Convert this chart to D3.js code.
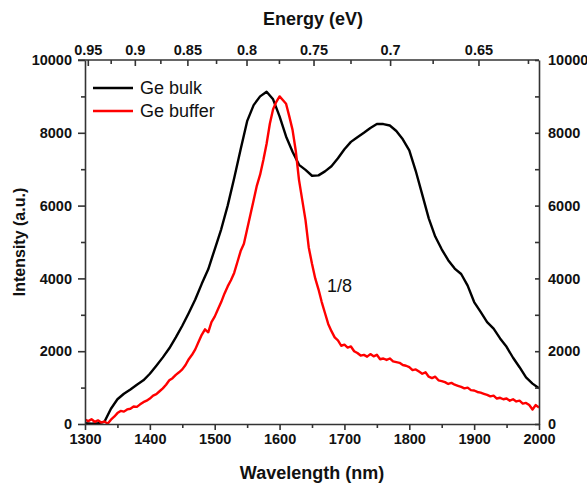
<!DOCTYPE html>
<html>
<head>
<meta charset="utf-8">
<script src="https://cdn.jsdelivr.net/npm/d3@7"></script>
<style>
  html, body { margin: 0; padding: 0; background: #fff; }
  svg { display: block; font-family: "Liberation Sans", Arial, sans-serif; }
</style>
</head>
<body>
<svg id="chart" width="587" height="484"></svg>
<script>
// Photoluminescence spectra: wavelength (nm) vs. intensity (a.u.)
const bulkWavelength = [1300,1310,1320,1330,1340,1350,1360,1370,1380,1390,1400,1410,1420,1430,1440,1450,1460,1470,1480,1490,1500,1510,1520,1530,1540,1550,1560,1570,1580,1590,1600,1610,1620,1630,1640,1650,1660,1670,1680,1690,1700,1710,1720,1730,1740,1750,1760,1770,1780,1790,1800,1810,1820,1830,1840,1850,1860,1870,1880,1890,1900,1910,1920,1930,1940,1950,1960,1970,1980,1990,2000];
const bulkIntensity = [20,10,20,60,420,680,830,950,1080,1200,1380,1600,1830,2080,2380,2700,3050,3420,3850,4250,4800,5350,6000,6750,7550,8320,8760,9000,9130,8920,8450,7900,7480,7120,6980,6820,6830,6940,7080,7300,7550,7750,7880,8000,8130,8240,8240,8200,8050,7820,7520,6950,6300,5650,5150,4800,4500,4270,4120,3800,3350,3080,2800,2620,2350,2120,1820,1560,1280,1110,980];

const bufferWavelength = [1300,1305,1310,1315,1320,1325,1330,1335,1340,1345,1350,1355,1360,1365,1370,1375,1380,1385,1390,1395,1400,1405,1410,1415,1420,1425,1430,1435,1440,1445,1450,1455,1460,1465,1470,1475,1480,1485,1490,1495,1500,1505,1510,1515,1520,1525,1530,1535,1540,1545,1550,1555,1560,1565,1570,1575,1580,1585,1590,1595,1600,1605,1610,1615,1620,1625,1630,1635,1640,1645,1650,1655,1660,1665,1670,1675,1680,1685,1690,1695,1700,1705,1710,1715,1720,1725,1730,1735,1740,1745,1750,1755,1760,1765,1770,1775,1780,1785,1790,1795,1800,1805,1810,1815,1820,1825,1830,1835,1840,1845,1850,1855,1860,1865,1870,1875,1880,1885,1890,1895,1900,1905,1910,1915,1920,1925,1930,1935,1940,1945,1950,1955,1960,1965,1970,1975,1980,1985,1990,1995,2000];
const bufferIntensity = [120,80,130,60,100,40,70,10,120,200,300,360,340,400,420,480,470,540,600,640,700,780,820,900,980,1080,1200,1260,1350,1420,1500,1620,1780,1900,2050,2250,2450,2600,2520,2800,2950,3150,3350,3580,3780,3950,4150,4450,4750,4950,5350,5750,6150,6550,6850,7250,7700,8250,8650,8850,9000,8900,8800,8450,8080,7500,6700,6150,5600,4850,4400,4000,3700,3350,3050,2750,2550,2380,2300,2150,2180,2100,2130,2000,1950,1880,1900,1850,1920,1860,1900,1780,1800,1760,1800,1720,1700,1680,1620,1600,1560,1480,1500,1440,1380,1420,1300,1260,1300,1200,1180,1150,1100,1130,1080,1050,1020,980,1000,930,920,880,860,830,800,760,780,700,720,680,700,640,680,620,640,560,580,520,400,520,450];

const seriesNames = ["Ge bulk", "Ge buffer"];
const seriesColors = ["#000000", "#ff0000"];

const wavelengthTicks = [1300,1400,1500,1600,1700,1800,1900,2000];
const wavelengthMinor = [1350,1450,1550,1650,1750,1850,1950];
const intensityTicks = [0,2000,4000,6000,8000,10000];
const intensityMinor = [1000,3000,5000,7000,9000];
const energyTicks = [0.95,0.9,0.85,0.8,0.75,0.7,0.65];
const energyMinor = [0.925,0.875,0.825,0.775,0.725,0.675,0.625];
const scaleNote = "1/8";

const HC = 1239.84; // eV·nm

const svg = d3.select("#chart");
const m = { left: 85, right: 539, top: 60, bottom: 424 };
const axisColor = "#333";

const x = d3.scaleLinear().domain([1300, 2000]).range([m.left, m.right]);
const y = d3.scaleLinear().domain([0, 10000]).range([m.bottom, m.top]);

svg.append("defs").append("clipPath").attr("id", "clip")
  .append("rect").attr("x", m.left).attr("y", m.top)
  .attr("width", m.right - m.left).attr("height", m.bottom - m.top);

const line = d3.line().x(d => x(d[0])).y(d => y(d[1]));

const bulk = bulkWavelength.map((w, i) => [w, bulkIntensity[i]]);
const buffer = bufferWavelength.map((w, i) => [w, bufferIntensity[i]]);

const curves = svg.append("g").attr("clip-path", "url(#clip)");
curves.append("path").datum(bulk).attr("d", line)
  .attr("fill", "none").attr("stroke", seriesColors[0]).attr("stroke-width", 2.4)
  .attr("stroke-linejoin", "round");
curves.append("path").datum(buffer).attr("d", line)
  .attr("fill", "none").attr("stroke", seriesColors[1]).attr("stroke-width", 2.4)
  .attr("stroke-linejoin", "round");

function styleAxis(g) {
  g.select(".domain").attr("stroke", axisColor).attr("stroke-width", 1.6);
  g.selectAll(".tick line").attr("stroke", axisColor).attr("stroke-width", 1.6);
  g.selectAll(".tick text").attr("fill", "#111").attr("font-weight", "bold")
    .attr("font-size", 14.5).attr("font-family", "'Liberation Sans', Arial, sans-serif");
}
function styleMinor(g) {
  g.select(".domain").remove();
  g.selectAll("line").attr("stroke", axisColor).attr("stroke-width", 1.6);
}

// bottom: wavelength
const gx = svg.append("g").attr("transform", `translate(0,${m.bottom})`)
  .call(d3.axisBottom(x).tickValues(wavelengthTicks).tickFormat(d3.format("d"))
    .tickSize(6).tickSizeOuter(0).tickPadding(4));
styleAxis(gx);
svg.append("g").attr("transform", `translate(0,${m.bottom})`)
  .call(d3.axisBottom(x).tickValues(wavelengthMinor).tickFormat("").tickSize(4).tickSizeOuter(0))
  .call(styleMinor);

// left: intensity
const gy = svg.append("g").attr("transform", `translate(${m.left},0)`)
  .call(d3.axisLeft(y).tickValues(intensityTicks).tickFormat(d3.format("d"))
    .tickSize(7).tickSizeOuter(0).tickPadding(6));
styleAxis(gy);
svg.append("g").attr("transform", `translate(${m.left},0)`)
  .call(d3.axisLeft(y).tickValues(intensityMinor).tickFormat("").tickSize(4).tickSizeOuter(0))
  .call(styleMinor);

// right: intensity, ticks pointing into the frame
const gr = svg.append("g").attr("transform", `translate(${m.right},0)`)
  .call(d3.axisRight(y).tickValues(intensityTicks).tickFormat(d3.format("d"))
    .tickSize(0).tickSizeOuter(0).tickPadding(9));
styleAxis(gr);
svg.append("g").attr("transform", `translate(${m.right},0)`)
  .call(d3.axisLeft(y).tickValues(intensityTicks.concat(intensityMinor)).tickFormat("").tickSize(4).tickSizeOuter(0))
  .call(styleMinor);

// top: photon energy, each tick placed at its wavelength
const energyPos = e => x(HC / e);
const gt = svg.append("g").attr("transform", `translate(0,${m.top})`);
gt.append("line").attr("x1", m.left - 7).attr("x2", m.right).attr("y1", 0).attr("y2", 0)
  .attr("stroke", axisColor).attr("stroke-width", 1.6);
gt.selectAll("line.maj").data(energyTicks).join("line").attr("class", "maj")
  .attr("x1", energyPos).attr("x2", energyPos).attr("y1", 0).attr("y2", 6)
  .attr("stroke", axisColor).attr("stroke-width", 1.6);
gt.selectAll("line.min").data(energyMinor).join("line").attr("class", "min")
  .attr("x1", energyPos).attr("x2", energyPos).attr("y1", 0).attr("y2", 4)
  .attr("stroke", axisColor).attr("stroke-width", 1.6);
gt.selectAll("text").data(energyTicks).join("text")
  .attr("x", energyPos).attr("y", -5).attr("text-anchor", "middle")
  .attr("font-weight", "bold").attr("font-size", 14.5).attr("fill", "#111")
  .text(d => String(d));

// axis titles
svg.append("text").attr("x", 312).attr("y", 479).attr("text-anchor", "middle")
  .attr("font-weight", "bold").attr("font-size", 18).attr("fill", "#111")
  .text("Wavelength (nm)");
svg.append("text").attr("x", 313).attr("y", 25).attr("text-anchor", "middle")
  .attr("font-weight", "bold").attr("font-size", 18).attr("fill", "#111")
  .text("Energy (eV)");
svg.append("text").attr("transform", `translate(25,${(m.top + m.bottom) / 2}) rotate(-90)`)
  .attr("text-anchor", "middle").attr("font-weight", "bold").attr("font-size", 16).attr("fill", "#111")
  .text("Intensity (a.u.)");

// legend
const legend = svg.append("g");
seriesNames.forEach((name, i) => {
  const ly = 88 + i * 23;
  legend.append("line").attr("x1", 93).attr("x2", 133).attr("y1", ly).attr("y2", ly)
    .attr("stroke", seriesColors[i]).attr("stroke-width", 2.4);
  legend.append("text").attr("x", 140).attr("y", ly + 6).attr("font-size", 18).attr("fill", "#111")
    .text(name);
});

// scaling note for the buffer curve
svg.append("text").attr("x", 327).attr("y", 292).attr("font-size", 18).attr("fill", "#111")
  .text(scaleNote);
</script>
</body>
</html>
